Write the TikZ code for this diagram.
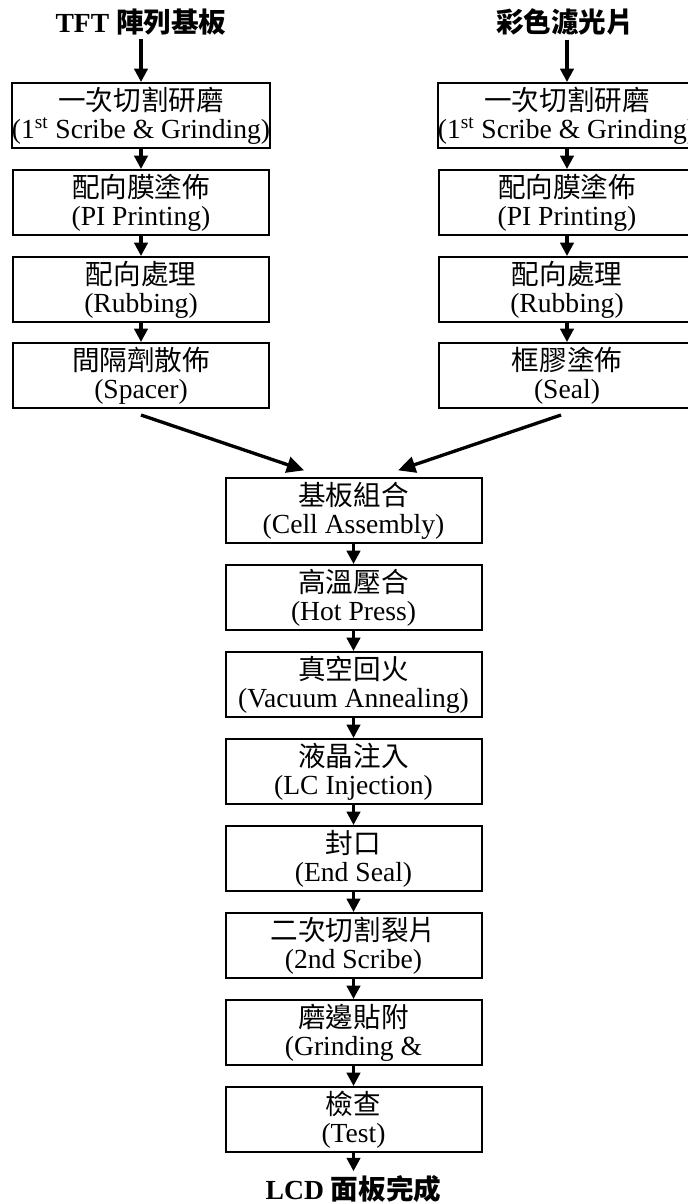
\documentclass[tikz,border=0pt]{standalone}
\usepackage{fontspec}
\setmainfont{Liberation Serif}
\newfontfamily\cjk{Noto Sans CJK TC}
\usetikzlibrary{arrows.meta}
\newcommand\boxfont{\fontsize{20.7}{21}\selectfont}
\begin{document}
\begin{tikzpicture}[x=0.75pt,y=-0.75pt,
  stepbox/.style={draw, line width=1.5pt, minimum width=192pt, minimum height=48.75pt,
    inner sep=0pt, align=center, font=\boxfont},
  titlenode/.style={inner sep=3pt, font=\boxfont\bfseries},
  arr/.style={line width=2.3pt, -{Triangle[length=10pt,width=10pt]}},
  darr/.style={line width=2.5pt, -{Triangle[length=13pt,width=12pt]}}]
\useasboundingbox (0,0) rectangle (688,1203);

% titles
\node[titlenode] (t1) at (141,22) {TFT {\cjk 陣列基板}};
\node[titlenode] (t2) at (565,22) {{\cjk 彩色濾光片}};

% left column
\node[stepbox] (L1) at (141,115.5) {{\cjk 一次切割研磨}\\(1\textsuperscript{st} Scribe \& Grinding)};
\node[stepbox] (L2) at (141,202.5) {{\cjk 配向膜塗佈}\\(PI Printing)};
\node[stepbox] (L3) at (141,289.5) {{\cjk 配向處理}\\(Rubbing)};
\node[stepbox] (L4) at (141,375.5) {{\cjk 間隔劑散佈}\\(Spacer)};

% right column
\node[stepbox] (R1) at (567,115.5) {{\cjk 一次切割研磨}\\(1\textsuperscript{st} Scribe \& Grinding)};
\node[stepbox] (R2) at (567,202.5) {{\cjk 配向膜塗佈}\\(PI Printing)};
\node[stepbox] (R3) at (567,289.5) {{\cjk 配向處理}\\(Rubbing)};
\node[stepbox] (R4) at (567,375.5) {{\cjk 框膠塗佈}\\(Seal)};

% centre column
\node[stepbox] (C1) at (353.5,510.5) {{\cjk 基板組合}\\(Cell Assembly)};
\node[stepbox] (C2) at (353.5,597.5) {{\cjk 高溫壓合}\\(Hot Press)};
\node[stepbox] (C3) at (353.5,684.5) {{\cjk 真空回火}\\(Vacuum Annealing)};
\node[stepbox] (C4) at (353.5,771.5) {{\cjk 液晶注入}\\(LC Injection)};
\node[stepbox] (C5) at (353.5,858.5) {{\cjk 封口}\\(End Seal)};
\node[stepbox] (C6) at (353.5,945.5) {{\cjk 二次切割裂片}\\(2nd Scribe)};
\node[stepbox] (C7) at (353.5,1032.5) {{\cjk 磨邊貼附}\\(Grinding \&};
\node[stepbox] (C8) at (353.5,1119.5) {{\cjk 檢查}\\(Test)};

\node[titlenode] (t3) at (353.5,1189) {LCD {\cjk 面板完成}};

% arrows
\draw[arr] (t1) -- (L1);
\draw[arr] (L1) -- (L2);
\draw[arr] (L2) -- (L3);
\draw[arr] (L3) -- (L4);
\draw[arr] (t2.south -| R1) -- (R1);
\draw[arr] (R1) -- (R2);
\draw[arr] (R2) -- (R3);
\draw[arr] (R3) -- (R4);
\draw[darr] ([yshift=-4.5pt]L4.south) -- ([xshift=-37pt,yshift=5pt]C1.north);
\draw[darr] ([xshift=-4.5pt,yshift=-4.5pt]R4.south) -- ([xshift=33.4pt,yshift=5pt]C1.north);
\draw[arr] (C1) -- (C2);
\draw[arr] (C2) -- (C3);
\draw[arr] (C3) -- (C4);
\draw[arr] (C4) -- (C5);
\draw[arr] (C5) -- (C6);
\draw[arr] (C6) -- (C7);
\draw[arr] (C7) -- (C8);
\draw[arr] (C8) -- (t3);
\end{tikzpicture}
\end{document}
